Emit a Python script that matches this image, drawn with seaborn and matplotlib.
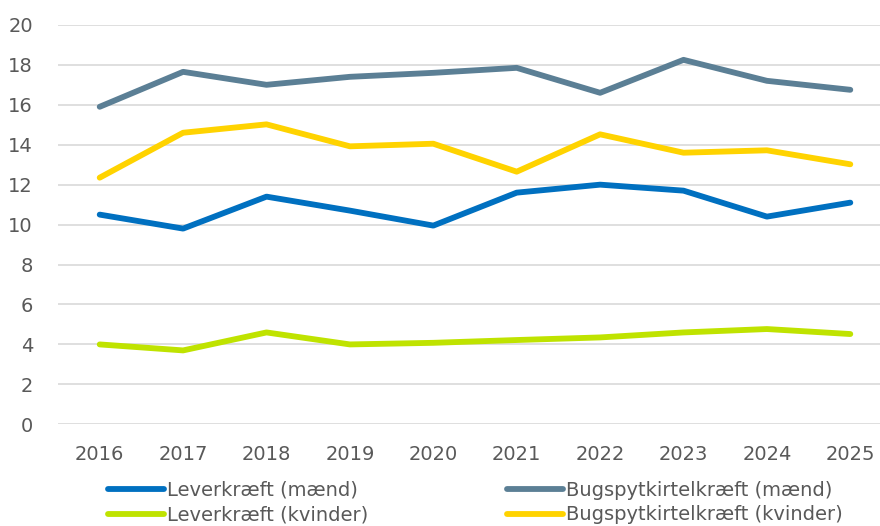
import pandas as pd
import seaborn as sns
import matplotlib.pyplot as plt

# values
years = [2016, 2017, 2018, 2019, 2020, 2021, 2022, 2023, 2024, 2025]
lever_maend = [10.5, 9.8, 11.4, 10.7, 9.95, 11.6, 12.0, 11.7, 10.4, 11.1]
bugspyt_maend = [15.9, 17.65, 17.0, 17.4, 17.6, 17.85, 16.6, 18.25, 17.2, 16.75]
lever_kvinder = [4.0, 3.7, 4.6, 4.0, 4.08, 4.22, 4.35, 4.6, 4.77, 4.52]
bugspyt_kvinder = [12.35, 14.6, 15.02, 13.92, 14.05, 12.65, 14.52, 13.6, 13.72, 13.02]

names = ["Leverkræft (mænd)", "Bugspytkirtelkræft (mænd)",
         "Leverkræft (kvinder)", "Bugspytkirtelkræft (kvinder)"]
series = [lever_maend, bugspyt_maend, lever_kvinder, bugspyt_kvinder]
colors = ["#0070C0", "#5B7F95", "#BFE300", "#FFD300"]

rows = []
for name, vals in zip(names, series):
    for i, v in enumerate(vals):
        rows.append({"pos": i, "serie": name, "value": v})
df = pd.DataFrame(rows)

sns.set_style("white")
plt.rcParams['font.family'] = ['DejaVu Sans']
plt.rcParams['font.size'] = 14

fig = plt.figure(figsize=(8.8, 5.26), dpi=100)
ax = fig.add_axes([58 / 880, 1 - 424.3 / 526, 822 / 880, 399.4 / 526])

sns.lineplot(data=df, x="pos", y="value", hue="serie", hue_order=names,
             palette=dict(zip(names, colors)), linewidth=4.2,
             solid_capstyle="round", ax=ax, legend=False)

ax.set_xlim(-0.5, 9.356)
ax.set_ylim(0, 20)
ax.set_yticks(range(0, 21, 2))
ax.set_xticks(range(len(years)))
ax.set_xticklabels([str(y) for y in years])
ax.yaxis.grid(True, color="#D9D9D9", linewidth=1.2)
ax.set_axisbelow(True)
for s in ax.spines.values():
    s.set_visible(False)
ax.tick_params(axis="both", length=0, labelcolor="#595959", labelsize=14)
ax.tick_params(axis="y", pad=18)
ax.tick_params(axis="x", pad=15)
ax.set_xlabel("")
ax.set_ylabel("")

# legend: column-wise fill, so reorder handles
handles = [plt.Line2D([], [], color=c, linewidth=4.2, solid_capstyle="round") for c in colors]
order = [0, 2, 1, 3]
fig.legend([handles[i] for i in order], [names[i] for i in order],
           ncol=2, loc="upper left", bbox_to_anchor=(108 / 880, 1 - 481 / 526),
           frameon=False, fontsize=14, handlelength=2.9, handletextpad=0.15,
           columnspacing=7.1, labelspacing=0.28, borderpad=0, borderaxespad=0,
           labelcolor="#595959")

fig.savefig("out.png", dpi=100)
